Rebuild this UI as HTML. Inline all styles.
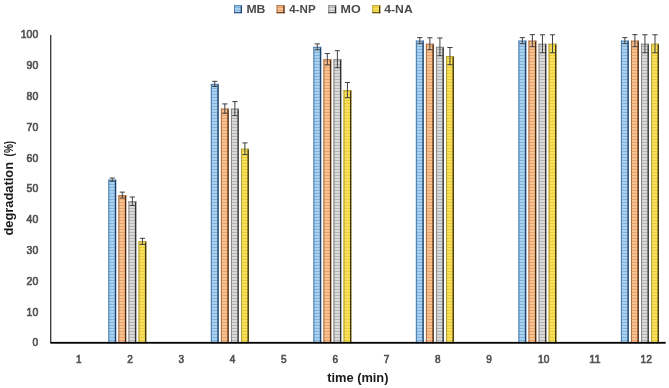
<!DOCTYPE html>
<html><head><meta charset="utf-8"><title>chart</title>
<style>
html,body{margin:0;padding:0;background:#fff;}
body{width:669px;height:388px;overflow:hidden;}
svg{display:block;}
text{font-family:"Liberation Sans",sans-serif;}
.tick{font-size:10px;fill:#505050;stroke:#505050;stroke-width:0.6px;}
.ttl{font-size:12.5px;font-weight:bold;fill:#1a1a1a;}
.leg{font-size:11.5px;font-weight:bold;fill:#4a4a4a;}
</style></head><body>
<svg width="669" height="388" viewBox="0 0 669 388">
<defs>
<pattern id="p0" width="3" height="3" patternUnits="userSpaceOnUse"><rect width="3" height="3" fill="#aed8f4"/><rect y="0.8" width="3" height="1.3" fill="#84b4dc"/></pattern>
<pattern id="p1" width="3" height="3" patternUnits="userSpaceOnUse"><rect width="3" height="3" fill="#f8c99a"/><rect y="0.8" width="3" height="1.3" fill="#f0a266"/></pattern>
<pattern id="p2" width="3" height="3" patternUnits="userSpaceOnUse"><rect width="3" height="3" fill="#e1e1e1"/><rect y="0.8" width="3" height="1.3" fill="#b6b6b6"/></pattern>
<pattern id="p3" width="3" height="3" patternUnits="userSpaceOnUse"><rect width="3" height="3" fill="#fbe566"/><rect y="0.8" width="3" height="1.3" fill="#ecce34"/></pattern>
</defs>
<rect width="669" height="388" fill="#fff"/>
<rect x="108.30" y="179.64" width="7.9" height="163.66" fill="url(#p0)"/>
<rect x="108.30" y="179.64" width="1.1" height="163.66" fill="#4f7fae"/>
<rect x="114.80" y="179.64" width="1.4" height="163.66" fill="#1f3f66"/>
<rect x="108.30" y="179.64" width="7.9" height="1" fill="#4f7fae"/>
<path d="M112.25 178.00V181.27M109.65 178.00H114.85M109.65 181.27H114.85" stroke="#404040" stroke-width="1" fill="none"/>
<rect x="118.35" y="195.08" width="7.9" height="148.22" fill="url(#p1)"/>
<rect x="118.35" y="195.08" width="1.1" height="148.22" fill="#a8744e"/>
<rect x="124.85" y="195.08" width="1.4" height="148.22" fill="#4a2a12"/>
<rect x="118.35" y="195.08" width="7.9" height="1" fill="#a8744e"/>
<path d="M122.30 192.11V198.04M119.70 192.11H124.90M119.70 198.04H124.90" stroke="#404040" stroke-width="1" fill="none"/>
<rect x="128.40" y="201.25" width="7.9" height="142.05" fill="url(#p2)"/>
<rect x="128.40" y="201.25" width="1.1" height="142.05" fill="#8a8a8a"/>
<rect x="134.90" y="201.25" width="1.4" height="142.05" fill="#333333"/>
<rect x="128.40" y="201.25" width="7.9" height="1" fill="#8a8a8a"/>
<path d="M132.35 196.99V205.51M129.75 196.99H134.95M129.75 205.51H134.95" stroke="#404040" stroke-width="1" fill="none"/>
<rect x="138.45" y="241.40" width="7.9" height="101.90" fill="url(#p3)"/>
<rect x="138.45" y="241.40" width="1.1" height="101.90" fill="#b8a038"/>
<rect x="144.95" y="241.40" width="1.4" height="101.90" fill="#40360c"/>
<rect x="138.45" y="241.40" width="7.9" height="1" fill="#b8a038"/>
<path d="M142.40 238.34V244.45M139.80 238.34H145.00M139.80 244.45H145.00" stroke="#404040" stroke-width="1" fill="none"/>
<rect x="210.82" y="83.91" width="7.9" height="259.39" fill="url(#p0)"/>
<rect x="210.82" y="83.91" width="1.1" height="259.39" fill="#4f7fae"/>
<rect x="217.32" y="83.91" width="1.4" height="259.39" fill="#1f3f66"/>
<rect x="210.82" y="83.91" width="7.9" height="1" fill="#4f7fae"/>
<path d="M214.77 81.31V86.50M212.17 81.31H217.37M212.17 86.50H217.37" stroke="#404040" stroke-width="1" fill="none"/>
<rect x="220.87" y="108.61" width="7.9" height="234.69" fill="url(#p1)"/>
<rect x="220.87" y="108.61" width="1.1" height="234.69" fill="#a8744e"/>
<rect x="227.37" y="108.61" width="1.4" height="234.69" fill="#4a2a12"/>
<rect x="220.87" y="108.61" width="7.9" height="1" fill="#a8744e"/>
<path d="M224.82 103.92V113.31M222.22 103.92H227.42M222.22 113.31H227.42" stroke="#404040" stroke-width="1" fill="none"/>
<rect x="230.92" y="108.61" width="7.9" height="234.69" fill="url(#p2)"/>
<rect x="230.92" y="108.61" width="1.1" height="234.69" fill="#8a8a8a"/>
<rect x="237.42" y="108.61" width="1.4" height="234.69" fill="#333333"/>
<rect x="230.92" y="108.61" width="7.9" height="1" fill="#8a8a8a"/>
<path d="M234.87 101.57V115.65M232.27 101.57H237.47M232.27 115.65H237.47" stroke="#404040" stroke-width="1" fill="none"/>
<rect x="240.97" y="148.76" width="7.9" height="194.54" fill="url(#p3)"/>
<rect x="240.97" y="148.76" width="1.1" height="194.54" fill="#b8a038"/>
<rect x="247.47" y="148.76" width="1.4" height="194.54" fill="#40360c"/>
<rect x="240.97" y="148.76" width="7.9" height="1" fill="#b8a038"/>
<path d="M244.92 142.92V154.59M242.32 142.92H247.52M242.32 154.59H247.52" stroke="#404040" stroke-width="1" fill="none"/>
<rect x="313.34" y="46.85" width="7.9" height="296.45" fill="url(#p0)"/>
<rect x="313.34" y="46.85" width="1.1" height="296.45" fill="#4f7fae"/>
<rect x="319.84" y="46.85" width="1.4" height="296.45" fill="#1f3f66"/>
<rect x="313.34" y="46.85" width="7.9" height="1" fill="#4f7fae"/>
<path d="M317.29 43.89V49.82M314.69 43.89H319.89M314.69 49.82H319.89" stroke="#404040" stroke-width="1" fill="none"/>
<rect x="323.39" y="59.20" width="7.9" height="284.10" fill="url(#p1)"/>
<rect x="323.39" y="59.20" width="1.1" height="284.10" fill="#a8744e"/>
<rect x="329.89" y="59.20" width="1.4" height="284.10" fill="#4a2a12"/>
<rect x="323.39" y="59.20" width="7.9" height="1" fill="#a8744e"/>
<path d="M327.34 53.52V64.89M324.74 53.52H329.94M324.74 64.89H329.94" stroke="#404040" stroke-width="1" fill="none"/>
<rect x="333.44" y="59.20" width="7.9" height="284.10" fill="url(#p2)"/>
<rect x="333.44" y="59.20" width="1.1" height="284.10" fill="#8a8a8a"/>
<rect x="339.94" y="59.20" width="1.4" height="284.10" fill="#333333"/>
<rect x="333.44" y="59.20" width="7.9" height="1" fill="#8a8a8a"/>
<path d="M337.39 50.68V67.73M334.79 50.68H339.99M334.79 67.73H339.99" stroke="#404040" stroke-width="1" fill="none"/>
<rect x="343.49" y="90.08" width="7.9" height="253.22" fill="url(#p3)"/>
<rect x="343.49" y="90.08" width="1.1" height="253.22" fill="#b8a038"/>
<rect x="349.99" y="90.08" width="1.4" height="253.22" fill="#40360c"/>
<rect x="343.49" y="90.08" width="7.9" height="1" fill="#b8a038"/>
<path d="M347.44 82.49V97.68M344.84 82.49H350.04M344.84 97.68H350.04" stroke="#404040" stroke-width="1" fill="none"/>
<rect x="415.86" y="40.68" width="7.9" height="302.62" fill="url(#p0)"/>
<rect x="415.86" y="40.68" width="1.1" height="302.62" fill="#4f7fae"/>
<rect x="422.36" y="40.68" width="1.4" height="302.62" fill="#1f3f66"/>
<rect x="415.86" y="40.68" width="7.9" height="1" fill="#4f7fae"/>
<path d="M419.81 37.65V43.70M417.21 37.65H422.41M417.21 43.70H422.41" stroke="#404040" stroke-width="1" fill="none"/>
<rect x="425.91" y="43.76" width="7.9" height="299.54" fill="url(#p1)"/>
<rect x="425.91" y="43.76" width="1.1" height="299.54" fill="#a8744e"/>
<rect x="432.41" y="43.76" width="1.4" height="299.54" fill="#4a2a12"/>
<rect x="425.91" y="43.76" width="7.9" height="1" fill="#a8744e"/>
<path d="M429.86 37.77V49.75M427.26 37.77H432.46M427.26 49.75H432.46" stroke="#404040" stroke-width="1" fill="none"/>
<rect x="435.96" y="46.85" width="7.9" height="296.45" fill="url(#p2)"/>
<rect x="435.96" y="46.85" width="1.1" height="296.45" fill="#8a8a8a"/>
<rect x="442.46" y="46.85" width="1.4" height="296.45" fill="#333333"/>
<rect x="435.96" y="46.85" width="7.9" height="1" fill="#8a8a8a"/>
<path d="M439.91 37.96V55.75M437.31 37.96H442.51M437.31 55.75H442.51" stroke="#404040" stroke-width="1" fill="none"/>
<rect x="446.01" y="56.12" width="7.9" height="287.18" fill="url(#p3)"/>
<rect x="446.01" y="56.12" width="1.1" height="287.18" fill="#b8a038"/>
<rect x="452.51" y="56.12" width="1.4" height="287.18" fill="#40360c"/>
<rect x="446.01" y="56.12" width="7.9" height="1" fill="#b8a038"/>
<path d="M449.96 47.50V64.73M447.36 47.50H452.56M447.36 64.73H452.56" stroke="#404040" stroke-width="1" fill="none"/>
<rect x="518.38" y="40.68" width="7.9" height="302.62" fill="url(#p0)"/>
<rect x="518.38" y="40.68" width="1.1" height="302.62" fill="#4f7fae"/>
<rect x="524.88" y="40.68" width="1.4" height="302.62" fill="#1f3f66"/>
<rect x="518.38" y="40.68" width="7.9" height="1" fill="#4f7fae"/>
<path d="M522.33 37.65V43.70M519.73 37.65H524.93M519.73 43.70H524.93" stroke="#404040" stroke-width="1" fill="none"/>
<rect x="528.43" y="40.68" width="7.9" height="302.62" fill="url(#p1)"/>
<rect x="528.43" y="40.68" width="1.1" height="302.62" fill="#a8744e"/>
<rect x="534.93" y="40.68" width="1.4" height="302.62" fill="#4a2a12"/>
<rect x="528.43" y="40.68" width="7.9" height="1" fill="#a8744e"/>
<path d="M532.38 34.62V46.73M529.78 34.62H534.98M529.78 46.73H534.98" stroke="#404040" stroke-width="1" fill="none"/>
<rect x="538.48" y="43.76" width="7.9" height="299.54" fill="url(#p2)"/>
<rect x="538.48" y="43.76" width="1.1" height="299.54" fill="#8a8a8a"/>
<rect x="544.98" y="43.76" width="1.4" height="299.54" fill="#333333"/>
<rect x="538.48" y="43.76" width="7.9" height="1" fill="#8a8a8a"/>
<path d="M542.43 34.78V52.75M539.83 34.78H545.03M539.83 52.75H545.03" stroke="#404040" stroke-width="1" fill="none"/>
<rect x="548.53" y="43.76" width="7.9" height="299.54" fill="url(#p3)"/>
<rect x="548.53" y="43.76" width="1.1" height="299.54" fill="#b8a038"/>
<rect x="555.03" y="43.76" width="1.4" height="299.54" fill="#40360c"/>
<rect x="548.53" y="43.76" width="7.9" height="1" fill="#b8a038"/>
<path d="M552.48 34.78V52.75M549.88 34.78H555.08M549.88 52.75H555.08" stroke="#404040" stroke-width="1" fill="none"/>
<rect x="620.90" y="40.68" width="7.9" height="302.62" fill="url(#p0)"/>
<rect x="620.90" y="40.68" width="1.1" height="302.62" fill="#4f7fae"/>
<rect x="627.40" y="40.68" width="1.4" height="302.62" fill="#1f3f66"/>
<rect x="620.90" y="40.68" width="7.9" height="1" fill="#4f7fae"/>
<path d="M624.85 37.65V43.70M622.25 37.65H627.45M622.25 43.70H627.45" stroke="#404040" stroke-width="1" fill="none"/>
<rect x="630.95" y="40.68" width="7.9" height="302.62" fill="url(#p1)"/>
<rect x="630.95" y="40.68" width="1.1" height="302.62" fill="#a8744e"/>
<rect x="637.45" y="40.68" width="1.4" height="302.62" fill="#4a2a12"/>
<rect x="630.95" y="40.68" width="7.9" height="1" fill="#a8744e"/>
<path d="M634.90 34.62V46.73M632.30 34.62H637.50M632.30 46.73H637.50" stroke="#404040" stroke-width="1" fill="none"/>
<rect x="641.00" y="43.76" width="7.9" height="299.54" fill="url(#p2)"/>
<rect x="641.00" y="43.76" width="1.1" height="299.54" fill="#8a8a8a"/>
<rect x="647.50" y="43.76" width="1.4" height="299.54" fill="#333333"/>
<rect x="641.00" y="43.76" width="7.9" height="1" fill="#8a8a8a"/>
<path d="M644.95 34.78V52.75M642.35 34.78H647.55M642.35 52.75H647.55" stroke="#404040" stroke-width="1" fill="none"/>
<rect x="651.05" y="43.76" width="7.9" height="299.54" fill="url(#p3)"/>
<rect x="651.05" y="43.76" width="1.1" height="299.54" fill="#b8a038"/>
<rect x="657.55" y="43.76" width="1.4" height="299.54" fill="#40360c"/>
<rect x="651.05" y="43.76" width="7.9" height="1" fill="#b8a038"/>
<path d="M655.00 34.78V52.75M652.40 34.78H657.60M652.40 52.75H657.60" stroke="#404040" stroke-width="1" fill="none"/>
<rect x="50.2" y="35" width="1.1" height="308" fill="#111"/>
<rect x="50.4" y="341.9" width="615.3" height="1.8" fill="#000"/>
<text class="tick" x="32.6" y="346.45" textLength="5.6" lengthAdjust="spacingAndGlyphs">0</text>
<text class="tick" x="26.6" y="315.64" textLength="11.6" lengthAdjust="spacingAndGlyphs">10</text>
<text class="tick" x="26.6" y="284.84" textLength="11.6" lengthAdjust="spacingAndGlyphs">20</text>
<text class="tick" x="26.6" y="254.03" textLength="11.6" lengthAdjust="spacingAndGlyphs">30</text>
<text class="tick" x="26.6" y="223.23" textLength="11.6" lengthAdjust="spacingAndGlyphs">40</text>
<text class="tick" x="26.6" y="192.43" textLength="11.6" lengthAdjust="spacingAndGlyphs">50</text>
<text class="tick" x="26.6" y="161.62" textLength="11.6" lengthAdjust="spacingAndGlyphs">60</text>
<text class="tick" x="26.6" y="130.81" textLength="11.6" lengthAdjust="spacingAndGlyphs">70</text>
<text class="tick" x="26.6" y="100.01" textLength="11.6" lengthAdjust="spacingAndGlyphs">80</text>
<text class="tick" x="26.6" y="69.20" textLength="11.6" lengthAdjust="spacingAndGlyphs">90</text>
<text class="tick" x="20.8" y="38.40" textLength="17.4" lengthAdjust="spacingAndGlyphs">100</text>
<text class="tick" x="75.9" y="362.7">1</text>
<text class="tick" x="127.2" y="362.7">2</text>
<text class="tick" x="178.5" y="362.7">3</text>
<text class="tick" x="229.8" y="362.7">4</text>
<text class="tick" x="281.1" y="362.7">5</text>
<text class="tick" x="332.4" y="362.7">6</text>
<text class="tick" x="383.7" y="362.7">7</text>
<text class="tick" x="435.0" y="362.7">8</text>
<text class="tick" x="486.3" y="362.7">9</text>
<text class="tick" x="538.0" y="362.7" textLength="11.3" lengthAdjust="spacingAndGlyphs">10</text>
<text class="tick" x="589.3" y="362.7" textLength="11.3" lengthAdjust="spacingAndGlyphs">11</text>
<text class="tick" x="640.6" y="362.7" textLength="11.3" lengthAdjust="spacingAndGlyphs">12</text>
<text class="ttl" x="327.2" y="381.7" textLength="61.3" lengthAdjust="spacingAndGlyphs">time (min)</text>
<text class="ttl" transform="translate(12.6,235.6) rotate(-90)" textLength="73.7" lengthAdjust="spacingAndGlyphs">degradation</text>
<text class="ttl" transform="translate(12.6,156.4) rotate(-90)" textLength="15.6" lengthAdjust="spacingAndGlyphs">(%)</text>
<rect x="234" y="5.2" width="8" height="8" fill="url(#p0)"/>
<rect x="234" y="5.2" width="1" height="8" fill="#4f7fae"/><rect x="240.7" y="5.2" width="1.3" height="8" fill="#1f3f66"/><rect x="234" y="5.2" width="8" height="1" fill="#4f7fae"/><rect x="234" y="12.2" width="8" height="1" fill="#1f3f66"/>
<text class="leg" x="246.4" y="12.9" textLength="19.0" lengthAdjust="spacingAndGlyphs">MB</text>
<rect x="276.6" y="5.2" width="8" height="8" fill="url(#p1)"/>
<rect x="276.6" y="5.2" width="1" height="8" fill="#a8744e"/><rect x="283.3" y="5.2" width="1.3" height="8" fill="#4a2a12"/><rect x="276.6" y="5.2" width="8" height="1" fill="#a8744e"/><rect x="276.6" y="12.2" width="8" height="1" fill="#4a2a12"/>
<text class="leg" x="289.3" y="12.9" textLength="26.4" lengthAdjust="spacingAndGlyphs">4-NP</text>
<rect x="328.2" y="5.2" width="8" height="8" fill="url(#p2)"/>
<rect x="328.2" y="5.2" width="1" height="8" fill="#8a8a8a"/><rect x="334.9" y="5.2" width="1.3" height="8" fill="#333333"/><rect x="328.2" y="5.2" width="8" height="1" fill="#8a8a8a"/><rect x="328.2" y="12.2" width="8" height="1" fill="#333333"/>
<text class="leg" x="340.6" y="12.9" textLength="20.1" lengthAdjust="spacingAndGlyphs">MO</text>
<rect x="372.3" y="5.2" width="8" height="8" fill="url(#p3)"/>
<rect x="372.3" y="5.2" width="1" height="8" fill="#b8a038"/><rect x="379.0" y="5.2" width="1.3" height="8" fill="#40360c"/><rect x="372.3" y="5.2" width="8" height="1" fill="#b8a038"/><rect x="372.3" y="12.2" width="8" height="1" fill="#40360c"/>
<text class="leg" x="384.3" y="12.9" textLength="28.4" lengthAdjust="spacingAndGlyphs">4-NA</text>
</svg></body></html>
